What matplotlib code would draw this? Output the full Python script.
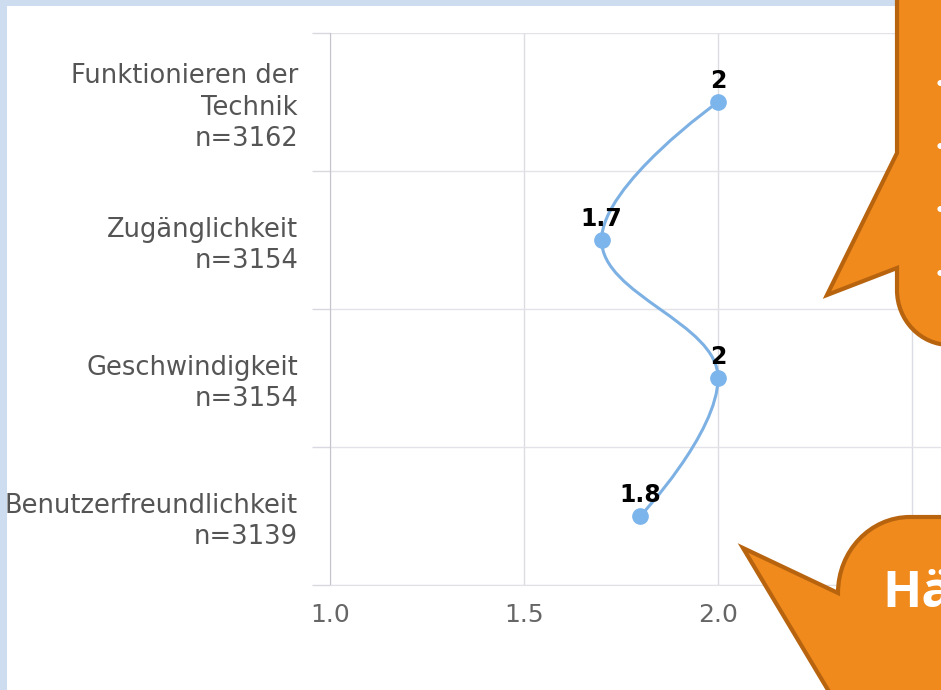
import matplotlib.pyplot as plt
import matplotlib.patches as mpatches
import matplotlib.transforms as mtransforms
from matplotlib.path import Path

plt.rcParams["font.family"] = "DejaVu Sans"

# data
categories = ["Funktionieren der\nTechnik", "Zugänglichkeit", "Geschwindigkeit", "Benutzerfreundlichkeit"]
counts = [3162, 3154, 3154, 3139]
values = [2.0, 1.7, 2.0, 1.8]
x_ticks = [1.0, 1.5, 2.0, 2.5]
x_ticklabels = ["1.0", "1.5", "2.0", ""]  # 2.5 hidden under the callout

W, H = 941, 690
fig = plt.figure(figsize=(W / 100, H / 100), dpi=100)
fig.patch.set_facecolor("white")

# pixel coords (y down) -> display
px = mtransforms.Affine2D().scale(1, -1).translate(0, H)

# light blue frame on top/left edge
border = "#cddcee"
fig.patches.append(mpatches.Rectangle((0, 0), W, 6, transform=px, facecolor=border,
                                      edgecolor="none", zorder=5))
fig.patches.append(mpatches.Rectangle((0, 0), 7, H, transform=px, facecolor=border,
                                      edgecolor="none", zorder=5))

ax = fig.add_axes([330 / W, (H - 585) / H, (W - 330) / W, (585 - 33) / H])
ax.set_facecolor("none")

n = len(categories)
ypos = [n - 1 - i for i in range(n)]  # first category on top

# spline like highcharts (category = x, value = y)
smoothing = 1.5
denom = smoothing + 1
pts = list(zip(ypos, values))
left_c = [None] * n
right_c = [None] * n
for i in range(1, n - 1):
    cx, cy = pts[i]
    lx, ly = pts[i - 1]
    nx, ny = pts[i + 1]
    lcx = (smoothing * cx + lx) / denom
    lcy = (smoothing * cy + ly) / denom
    rcx = (smoothing * cx + nx) / denom
    rcy = (smoothing * cy + ny) / denom
    corr = 0
    if rcx != lcx:
        corr = (rcy - lcy) * (rcx - cx) / (rcx - lcx) + cy - rcy
    lcy += corr
    rcy += corr
    if lcy > ly and lcy > cy:
        lcy = max(ly, cy); rcy = 2 * cy - lcy
    elif lcy < ly and lcy < cy:
        lcy = min(ly, cy); rcy = 2 * cy - lcy
    if rcy > ny and rcy > cy:
        rcy = max(ny, cy); lcy = 2 * cy - rcy
    elif rcy < ny and rcy < cy:
        rcy = min(ny, cy); lcy = 2 * cy - rcy
    left_c[i] = (lcx, lcy)
    right_c[i] = (rcx, rcy)

verts = [(pts[0][1], pts[0][0])]
codes = [Path.MOVETO]
for i in range(1, n):
    c1 = right_c[i - 1] or pts[i - 1]
    c2 = left_c[i] or pts[i]
    verts += [(c1[1], c1[0]), (c2[1], c2[0]), (pts[i][1], pts[i][0])]
    codes += [Path.CURVE4] * 3
ax.add_patch(mpatches.PathPatch(Path(verts, codes), facecolor="none",
                                edgecolor="#7db1e4", lw=2.2, zorder=3))

ax.plot(values, ypos, "o", color="#7cb5ec", ms=11, zorder=4)
for v, y in zip(values, ypos):
    ax.annotate(f"{v:g}", (v, y), xytext=(0, 10), textcoords="offset points",
                ha="center", va="baseline", fontsize=17, fontweight="bold",
                color="black", zorder=5)

ax.set_xlim(1, 1 + (W - 330) / 388)
ax.set_ylim(-0.5, n - 0.5)
ax.set_xticks(x_ticks)
ax.set_xticklabels(x_ticklabels)
ax.set_yticks(ypos)
ax.set_yticklabels([f"{c}\nn={k}" for c, k in zip(categories, counts)],
                   multialignment="right", linespacing=1.27)
ax.set_yticks([i - 0.5 for i in range(n + 1)], minor=True)

ax.tick_params(axis="x", length=0, pad=13, labelsize=18, labelcolor="#666666")
ax.tick_params(axis="y", which="major", length=0, pad=23, labelsize=18.5, labelcolor="#555555")
ax.tick_params(axis="y", which="minor", length=13, color="#d8d8e0", width=1)
ax.grid(axis="x", color="#dcdce4", lw=1)
ax.grid(axis="y", which="minor", color="#e2e2e8", lw=1)
for s in ["top", "right"]:
    ax.spines[s].set_visible(False)
ax.spines["bottom"].set_color("#e0e0e6")
ax.spines["left"].set_color("#c4c4cc")

# orange callout bubbles
orange = "#f08a1d"
edge = "#b8640f"
k = 0.5523
b1 = [(897, -10), (897, 153), (827, 295), (897, 268), (897, 290),
      (897, 290 + k * 55), (950 - k * 53, 345), (950, 345), (950, -10), (897, -10)]
c1 = [Path.MOVETO, Path.LINETO, Path.LINETO, Path.LINETO, Path.LINETO,
      Path.CURVE4, Path.CURVE4, Path.CURVE4, Path.LINETO, Path.CLOSEPOLY]
fig.patches.append(mpatches.PathPatch(Path(b1, c1), transform=px, facecolor=orange,
                                      edgecolor=edge, lw=3, zorder=10))
b2 = [(838, 593), (743, 548), (834, 700), (950, 700), (950, 517), (910, 517),
      (910 - k * 72, 517), (838, 593 - k * 76), (838, 593), (838, 593)]
c2 = [Path.MOVETO, Path.LINETO, Path.LINETO, Path.LINETO, Path.LINETO, Path.LINETO,
      Path.CURVE4, Path.CURVE4, Path.CURVE4, Path.CLOSEPOLY]
fig.patches.append(mpatches.PathPatch(Path(b2, c2), transform=px, facecolor=orange,
                                      edgecolor=edge, lw=3, zorder=10))

fig.text(882, 607, "Hä", transform=px, color="white", fontsize=37, fontweight="bold",
         family="Open Sans", ha="left", va="baseline", zorder=11)
for yy in [85, 148, 211, 275]:
    fig.text(934, yy, "•", transform=px, color="white", fontsize=16,
             ha="left", va="center", zorder=11)

fig.savefig("out.png", dpi=100)
